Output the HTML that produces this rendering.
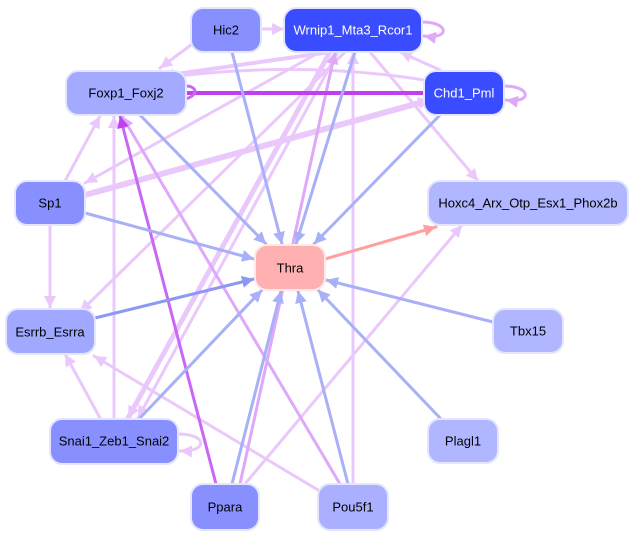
<!DOCTYPE html>
<html><head><meta charset="utf-8"><style>
html,body{margin:0;padding:0;background:#fff;}
svg{display:block;}
text{font-family:"Liberation Sans",sans-serif;font-size:13px;text-anchor:middle;dominant-baseline:central;}
</style></head><body>
<svg width="635" height="536" viewBox="0 0 635 536" xmlns="http://www.w3.org/2000/svg">
<defs>
<marker id="mb" markerUnits="userSpaceOnUse" markerWidth="14" markerHeight="12" refX="12" refY="6" orient="auto"><path d="M0,0 L12,6 L0,12 z" fill="#a8b0f8"/></marker>
<marker id="mbd" markerUnits="userSpaceOnUse" markerWidth="14" markerHeight="12" refX="12" refY="6" orient="auto"><path d="M0,0 L12,6 L0,12 z" fill="#8c98f4"/></marker>
<marker id="ml" markerUnits="userSpaceOnUse" markerWidth="14" markerHeight="12" refX="12" refY="6" orient="auto"><path d="M0,0 L12,6 L0,12 z" fill="#eac8fc"/></marker>
<marker id="mm" markerUnits="userSpaceOnUse" markerWidth="14" markerHeight="12" refX="12" refY="6" orient="auto"><path d="M0,0 L12,6 L0,12 z" fill="#dfa8f8"/></marker>
<marker id="ms" markerUnits="userSpaceOnUse" markerWidth="14" markerHeight="12" refX="12" refY="6" orient="auto"><path d="M0,0 L12,6 L0,12 z" fill="#c040f0"/></marker>
<marker id="mr" markerUnits="userSpaceOnUse" markerWidth="14" markerHeight="12" refX="12" refY="6" orient="auto"><path d="M0,0 L12,6 L0,12 z" fill="#ffa0a0"/></marker>
</defs>
<g fill="none" stroke-linecap="round">
<!-- light purple edges -->
<g stroke="#eac8fc" stroke-width="3" marker-end="url(#ml)">
<line x1="261" y1="29" x2="284" y2="29"/>
<line x1="191" y1="45" x2="160" y2="68"/>
<line x1="330" y1="52" x2="162" y2="76" stroke-width="4"/>
<line x1="440" y1="70" x2="400" y2="52"/>
<line x1="370" y1="52" x2="478" y2="181"/>
<line x1="345" y1="52" x2="80" y2="312"/>
<line x1="330" y1="52" x2="128" y2="418" stroke-width="5"/>
<line x1="338" y1="52" x2="138" y2="418"/>
<line x1="320" y1="52" x2="85" y2="183"/>
<line x1="85" y1="195" x2="430" y2="100" stroke-width="6"/>
<line x1="65" y1="181" x2="100" y2="116"/>
<line x1="50" y1="225" x2="50" y2="308"/>
<line x1="114" y1="418" x2="114" y2="116"/>
<line x1="100" y1="418" x2="65" y2="354"/>
<line x1="245" y1="484" x2="462" y2="225"/>
<line x1="318" y1="490" x2="94" y2="356"/>
<line x1="353" y1="484" x2="353" y2="52"/>
<path d="M424,80 Q300,60 162,78" stroke-width="3"/>
</g>
<g stroke="#dfa8f8" stroke-width="3" marker-end="url(#mm)">
<line x1="340" y1="484" x2="122" y2="116"/>
<line x1="240" y1="484" x2="335" y2="52"/>
</g>
<line x1="216" y1="484" x2="120" y2="116" stroke="#c868f4" stroke-width="3" marker-end="url(#ms)"/>
<line x1="424" y1="93" x2="168" y2="93" stroke="#c040f0" stroke-width="4" marker-end="url(#ms)"/>
<!-- self loops -->
<path d="M422,22 C450,22 450,40 424,36" stroke="#dfa8f8" stroke-width="3" marker-end="url(#mm)"/>
<path d="M504,86 C532,86 532,104 506,100" stroke="#dfa8f8" stroke-width="3" marker-end="url(#mm)"/>
<path d="M186,86 C200,86 200,102 168,100" stroke="#c868f4" stroke-width="3" marker-end="url(#ms)"/>
<path d="M178,434 C208,434 208,452 180,451" stroke="#eac8fc" stroke-width="3" marker-end="url(#ml)"/>
<!-- blue edges into Thra -->
<g stroke="#a8b0f8" stroke-width="3" marker-end="url(#mb)">
<line x1="232" y1="52" x2="282" y2="244"/>
<line x1="355" y1="52" x2="296" y2="244"/>
<line x1="440" y1="115" x2="314" y2="244"/>
<line x1="140" y1="115" x2="266" y2="244"/>
<line x1="85" y1="213" x2="254" y2="259"/>
<line x1="140" y1="418" x2="262" y2="290"/>
<line x1="232" y1="484" x2="281" y2="291"/>
<line x1="348" y1="484" x2="298" y2="291"/>
<line x1="493" y1="322" x2="326" y2="280"/>
<line x1="440" y1="418" x2="318" y2="290"/>
</g>
<line x1="95" y1="318" x2="254" y2="279" stroke="#8c98f4" stroke-width="3" marker-end="url(#mbd)"/>
<line x1="325" y1="259" x2="436" y2="227" stroke="#ffa0a0" stroke-width="3" marker-end="url(#mr)"/>
</g>
<!-- nodes -->
<g stroke="#e4e6ff" stroke-width="2">
<rect x="191" y="8" width="70" height="44" rx="12" fill="#8890ff"/>
<rect x="284" y="8" width="138" height="44" rx="12" fill="#3a4cff"/>
<rect x="66" y="71" width="120" height="44" rx="12" fill="#a4aaff"/>
<rect x="424" y="71" width="80" height="44" rx="12" fill="#3a4cff"/>
<rect x="15" y="181" width="70" height="44" rx="12" fill="#8890ff"/>
<rect x="428" y="181" width="200" height="44" rx="12" fill="#b0b6ff"/>
<rect x="255" y="245" width="70" height="45" rx="12" fill="#ffb0b0" stroke="#ffe8e8"/>
<rect x="6" y="309" width="89" height="45" rx="12" fill="#a0a8ff"/>
<rect x="493" y="309" width="70" height="44" rx="12" fill="#b0b6ff"/>
<rect x="50" y="419" width="128" height="45" rx="12" fill="#8890ff"/>
<rect x="428" y="419" width="70" height="44" rx="12" fill="#b0b6ff"/>
<rect x="191" y="484" width="68" height="46" rx="12" fill="#8890ff"/>
<rect x="318" y="484" width="70" height="46" rx="12" fill="#aab0ff"/>
</g>
<g fill="#000">
<text x="226" y="30">Hic2</text>
<text x="353" y="30" fill="#fff">Wrnip1_Mta3_Rcor1</text>
<text x="126" y="93">Foxp1_Foxj2</text>
<text x="464" y="93" fill="#fff">Chd1_Pml</text>
<text x="50" y="203">Sp1</text>
<text x="528" y="203">Hoxc4_Arx_Otp_Esx1_Phox2b</text>
<text x="290" y="268">Thra</text>
<text x="50" y="332">Esrrb_Esrra</text>
<text x="528" y="331">Tbx15</text>
<text x="114" y="441">Snai1_Zeb1_Snai2</text>
<text x="463" y="441">Plagl1</text>
<text x="225" y="507">Ppara</text>
<text x="353" y="507">Pou5f1</text>
</g>
</svg>
</body></html>
